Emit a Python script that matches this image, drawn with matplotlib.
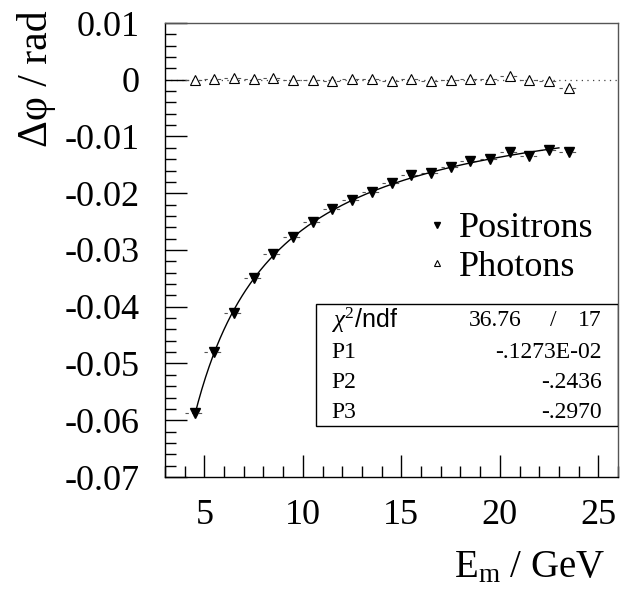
import numpy as np
import matplotlib.pyplot as plt
from matplotlib.patches import Rectangle
from matplotlib.ticker import MultipleLocator

plt.rcParams['font.family'] = ['Liberation Serif', 'DejaVu Serif']
plt.rcParams['mathtext.fontset'] = 'custom'
plt.rcParams['mathtext.rm'] = 'Liberation Serif'
plt.rcParams['mathtext.it'] = 'Liberation Serif:italic'

# === data ===
energy = [4.5, 5.5, 6.5, 7.5, 8.5, 9.5, 10.5, 11.5, 12.5, 13.5,
          14.5, 15.5, 16.5, 17.5, 18.5, 19.5, 20.5, 21.5, 22.5, 23.5]
energy_err = 0.5

positrons = [-0.0588, -0.0479, -0.0411, -0.0350, -0.0307, -0.0277, -0.0250,
             -0.0228, -0.0212, -0.0197, -0.0182, -0.0168, -0.0164, -0.0153,
             -0.0144, -0.0140, -0.0127, -0.0134, -0.0124, -0.0127]

photons = [-0.0001, 0.0001, 0.00035, 0.0001, 0.0003, -0.0001, -0.0001, -0.0002,
           0.0002, 0.0001, -0.0003, 0.0001, -0.0003, -0.0001, 0.0002, 0.0002,
           0.0006, 0.0, -0.0002, -0.0015]

# fit p1 + p2 / (x + p3)
p1, p2, p3 = -0.1273e-02, -0.2436, -0.2970
chi2, ndf = 36.76, 17
fit_range = (4.5, 23.0)

fig = plt.figure(figsize=(6.29, 5.94), dpi=100)
ax = fig.add_axes([165 / 629, 1 - 477 / 594, 453 / 629, 454 / 594])

ax.axhline(0, color='#444444', lw=0.9, ls=(0, (1, 3.5)), zorder=1)

for yv in (positrons, photons):
    eb = ax.errorbar(energy, yv, xerr=energy_err, fmt='none', ecolor='#555555',
                     elinewidth=0.8, zorder=2)
    eb[2][0].set_linestyle((0, (3, 3)))

xf = np.linspace(fit_range[0], fit_range[1], 300)
ax.plot(xf, p1 + p2 / (xf + p3), color='black', lw=1.0, zorder=3)

ax.plot(energy, positrons, 'v', ms=6.5, mfc='black', mec='black', ls='none',
        zorder=4, label='Positrons')
ax.plot(energy, photons, '^', ms=7, mfc='white', mec='black', mew=0.8, ls='none',
        zorder=4, label='Photons')

ax.set_xlim(3, 26)
ax.set_ylim(-0.07, 0.01)
ax.xaxis.set_major_locator(MultipleLocator(5))
ax.xaxis.set_minor_locator(MultipleLocator(1))
ax.yaxis.set_minor_locator(MultipleLocator(0.002))
ax.set_yticks(np.arange(-0.07, 0.0101, 0.01))
ax.set_yticklabels(['-0.07', '-0.06', '-0.05', '-0.04', '-0.03', '-0.02',
                    '-0.01', '0', '0.01'])
ax.tick_params(which='both', direction='in', top=False, right=False,
               labelsize=26, width=1)
ax.tick_params(which='major', length=16)
ax.tick_params(which='minor', length=8)
ax.tick_params(axis='x', pad=16)
ax.tick_params(axis='y', pad=18)
for s in ax.spines.values():
    s.set_linewidth(1.0)
for s in ['top', 'right']:
    ax.spines[s].set_color('#555555')

ax.legend(loc='upper left', bbox_to_anchor=(426 / 629, 1 - 212 / 594),
          bbox_transform=fig.transFigure, frameon=False, fontsize=26,
          handlelength=0.6, handletextpad=0.3, borderpad=0, borderaxespad=0,
          labelspacing=0.15, markerscale=0.6)

# stats box
bx0, by0 = (316 - 165) / 453, (477 - 426) / 454
ax.add_patch(Rectangle((bx0, by0), 1 - bx0, (426 - 304) / 454, transform=ax.transAxes,
                       fill=False, ec='black', lw=1.0, zorder=5))
rows_y = [320, 352, 382, 412]
lx, rx = 331 / 629, 602 / 629
fig.text(lx, 1 - rows_y[0] / 594, r'$\chi^2$/ndf', fontsize=18,
         family='Liberation Sans', va='center', ha='left')
fig.text(522 / 629, 1 - rows_y[0] / 594, f'{chi2:.2f}', fontsize=17,
         va='center', ha='right')
fig.text(553 / 629, 1 - rows_y[0] / 594, '/', fontsize=17, va='center', ha='center')
fig.text(rx, 1 - rows_y[0] / 594, f'{ndf}', fontsize=17, va='center', ha='right')
for i, (name, val) in enumerate([('P1', '-.1273E-02'), ('P2', '-.2436'),
                                 ('P3', '-.2970')]):
    fig.text(lx, 1 - rows_y[i + 1] / 594, name, fontsize=17, va='center', ha='left')
    fig.text(rx, 1 - rows_y[i + 1] / 594, val, fontsize=17, va='center', ha='right')

fig.text(36 / 629, 1 - 10 / 594, 'Δφ / rad', rotation=90, fontsize=30,
         ha='center', va='top')
fig.text(605 / 629, 1 - 577 / 594, r'E$_{\mathrm{m}}$ / GeV', fontsize=28,
         ha='right', va='baseline')

fig.savefig('out.png', dpi=100)
